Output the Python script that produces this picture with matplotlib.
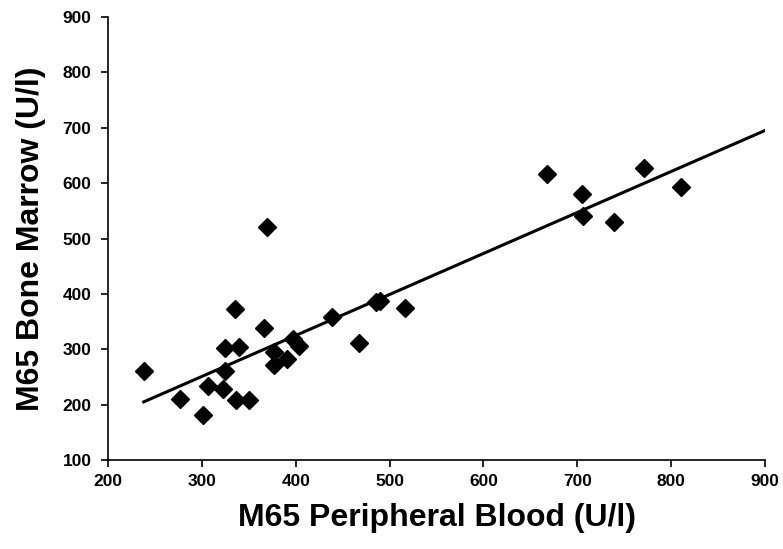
import numpy as np
import matplotlib.pyplot as plt

plt.rcParams['font.family'] = ['Liberation Sans', 'DejaVu Sans']

# M65 peripheral blood vs bone marrow (U/l)
pb = [238, 277, 301, 306, 322, 325, 325, 339, 335, 336, 350, 366, 377, 377,
      391, 397, 403, 439, 467, 485, 490, 516, 369,
      668, 705, 706, 739, 771, 810]
bm = [261, 211, 181, 234, 228, 261, 302, 305, 372, 208, 208, 338, 296, 272,
      282, 318, 306, 359, 311, 386, 388, 375, 520,
      616, 581, 540, 529, 628, 593]

x_ticks = [200, 300, 400, 500, 600, 700, 800, 900]
y_ticks = [100, 200, 300, 400, 500, 600, 700, 800, 900]

pb = np.array(pb)
bm = np.array(bm)
slope, icpt = np.polyfit(pb, bm, 1)
xfit = np.array([pb.min(), 900])

fig = plt.figure(figsize=(7.83, 5.49), dpi=100)
ax = fig.add_axes([0.138, 0.162, 0.839, 0.807])

ax.plot(xfit, slope * xfit + icpt, color='black', lw=2.2, zorder=2)
ax.plot(pb, bm, ls='none', marker='D', ms=9, color='black', zorder=3)

ax.set_xlim(200, 900)
ax.set_ylim(100, 900)
ax.set_xticks(x_ticks)
ax.set_yticks(y_ticks)
for s in ['top', 'right']:
    ax.spines[s].set_visible(False)
for s in ['left', 'bottom']:
    ax.spines[s].set_linewidth(1.2)
ax.tick_params(direction='out', length=5, width=1.2, labelsize=12.5)
ax.tick_params(axis='x', pad=5)
ax.tick_params(axis='y', pad=7)
for lab in ax.get_xticklabels() + ax.get_yticklabels():
    lab.set_fontweight('bold')

ax.set_xlabel('M65 Peripheral Blood (U/l)', fontsize=23, fontweight='bold', labelpad=10)
ax.set_ylabel('M65 Bone Marrow (U/l)', fontsize=23, fontweight='bold', labelpad=12)

fig.savefig('out.png', dpi=100)
